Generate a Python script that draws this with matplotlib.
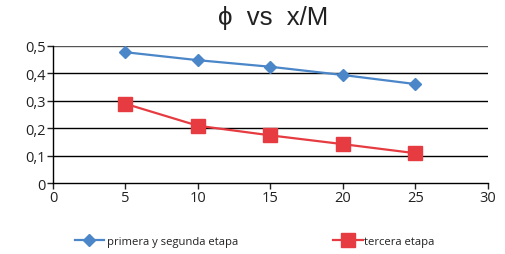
import numpy as np
import matplotlib
matplotlib.use('Agg')
import matplotlib.pyplot as plt

# data
x_vals = [5, 10, 15, 20, 25]
phi_12 = [0.477, 0.448, 0.424, 0.394, 0.361]   # primera y segunda etapa
phi_3 = [0.289, 0.209, 0.174, 0.142, 0.109]    # tercera etapa
xticks = [0, 5, 10, 15, 20, 25, 30]
yticks = [0, 0.1, 0.2, 0.3, 0.4, 0.5]
ylabels = ['0', '0,1', '0,2', '0,3', '0,4', '0,5']

blue = '#4a86c8'; red = '#e63b40'

fig = plt.figure(figsize=(5.05, 2.55), dpi=100)
ax = fig.add_axes([0.105, 0.278, 0.861, 0.538])

l1, = ax.plot(x_vals, phi_12, '-', color=blue, lw=1.6, marker='D', markersize=6.5, label='primera y segunda etapa')
l2, = ax.plot(x_vals, phi_3, '-', color=red, lw=1.6, marker='s', markersize=9.5, label='tercera etapa')

ax.set_xlim(0, 30); ax.set_ylim(0, 0.5)
ax.set_xticks(xticks)
ax.set_yticks(yticks); ax.set_yticklabels(ylabels)
for y in yticks[1:]:
    ax.axhline(y, color='#555555' if y == 0.5 else 'black', lw=1.0, zorder=0)
for s in ['top', 'right']:
    ax.spines[s].set_visible(False)
ax.spines['left'].set_linewidth(1.0); ax.spines['bottom'].set_linewidth(1.0)
ax.tick_params(axis='both', direction='out', length=4, width=1.0, labelsize=10.5, colors='#222222', pad=1)
for lab in ax.get_xticklabels() + ax.get_yticklabels():
    lab.set_family('Open Sans')

# title in the reference is wide, so a bit bigger with spread-out words
fig.text(0.54, 0.93, 'ϕ  vs  x/M', ha='center', va='center', fontsize=18.5, family='Liberation Sans', color='#222222')

leg1 = fig.legend(handles=[l1], loc='center left', bbox_to_anchor=(0.128, 0.05), frameon=False,
                  handlelength=2.6, handletextpad=0.3, prop={'family': 'Open Sans', 'size': 8.1})
leg2 = fig.legend(handles=[l2], loc='center left', bbox_to_anchor=(0.64, 0.05), frameon=False,
                  handlelength=2.6, handletextpad=0.1, prop={'family': 'Open Sans', 'size': 8.1})
for leg in (leg1, leg2):
    for t in leg.get_texts():
        t.set_color('#222222')

fig.savefig('out.png', dpi=100)
